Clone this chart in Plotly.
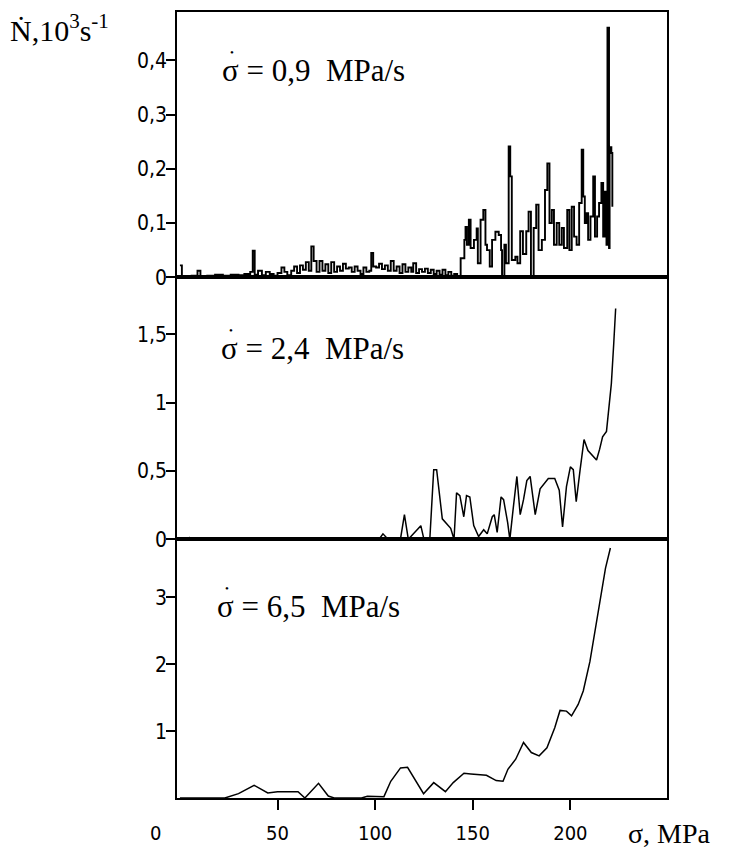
import plotly.graph_objects as go

# ---------------- data ----------------
# Panel 1: sigma_dot = 0,9 MPa/s
s1 = [0, 1, 3, 6, 9, 10.5, 14, 18, 22, 26, 30, 33, 36, 37.3, 38.3, 40, 42, 44, 46, 48,
      50, 52, 53.5, 55, 57, 58.5, 60, 61.5, 63, 64.5, 66, 67.3, 68.5, 70, 71.5, 73, 74.5,
      76, 77.5, 79, 80.5, 82, 83.5, 85, 86.5, 88, 89.5, 91, 92.5, 94, 95.5, 97, 98, 99,
      100.5, 102, 103.5, 105, 106.5, 108, 109.5, 111, 112.5, 114, 115.5, 117, 118.5, 119.5,
      121, 122.5, 124, 125.5, 127, 128.5, 130, 131.5, 133, 134.5, 136, 137.5, 139, 140.5,
      142, 143.8, 145.7, 146.3, 147, 148, 148.9, 150.6, 152, 152.6, 154, 155.4, 156.5,
      157.3, 158.7, 159.9, 161.6, 163.3, 164.5, 165, 166.2, 167, 168.4, 169.2, 170, 171.8,
      172.9, 174.3, 175.7, 177.4, 178.6, 179.8, 181.2, 182.5, 183.7, 185.4, 187, 188.2,
      189.3, 190.5, 191.6, 193, 194.3, 195.6, 196.7, 198.4, 199.5, 200.7, 201.9, 203.2,
      204.5, 205.8, 206.6, 207.4, 208.3, 209.1, 210.3, 211.7, 212.6, 213.7, 214.7, 215.9,
      216.8, 217.6, 218.5, 219, 219.8, 220.1, 221, 221.5]
n1 = [0.022, 0.0, 0.002, 0.003, 0.012, 0.002, 0.003, 0.005, 0.003, 0.005, 0.004, 0.006,
      0.01, 0.049, 0.005, 0.012, 0.004, 0.01, 0.006, 0.003, 0.008, 0.018, 0.01, 0.004,
      0.012, 0.02, 0.008, 0.022, 0.014, 0.028, 0.012, 0.057, 0.03, 0.01, 0.03, 0.012,
      0.024, 0.008, 0.028, 0.01, 0.02, 0.012, 0.025, 0.016, 0.018, 0.01, 0.02, 0.012,
      0.006, 0.018, 0.01, 0.012, 0.045, 0.02, 0.018, 0.025, 0.015, 0.022, 0.012, 0.03,
      0.012, 0.02, 0.008, 0.024, 0.01, 0.018, 0.01, 0.026, 0.008, 0.015, 0.01, 0.016,
      0.008, 0.014, 0.006, 0.012, 0.005, 0.014, 0.004, 0.01, 0.003, 0.006, 0.002, 0.035,
      0.069, 0.093, 0.06, 0.106, 0.054, 0.069, 0.09, 0.026, 0.106, 0.124, 0.06, 0.05,
      0.02, 0.069, 0.084, 0.078, 0.05, 0.0, 0.06, 0.026, 0.241, 0.186, 0.032, 0.038,
      0.026, 0.085, 0.043, 0.085, 0.121, 0.0, 0.091, 0.134, 0.05, 0.069, 0.161, 0.21,
      0.1, 0.124, 0.06, 0.1, 0.06, 0.091, 0.054, 0.124, 0.05, 0.13, 0.075, 0.06, 0.137,
      0.235, 0.149, 0.1, 0.118, 0.069, 0.112, 0.186, 0.075, 0.112, 0.137, 0.174, 0.075,
      0.158, 0.06, 0.46, 0.054, 0.24, 0.229, 0.13]

# Panel 2: sigma_dot = 2,4 MPa/s
s2 = [0, 4, 5, 6, 20, 22, 25, 60, 62, 64, 85, 87, 89, 102, 104, 106, 108, 113, 115, 117,
      123.4, 125, 128, 130, 131.5, 132.7, 134.4, 138.7, 140.4, 141.7, 143.4, 145.4, 146.8,
      148.5, 150.5, 153, 155.6, 157.4, 160, 161, 162.5, 164.5, 165.8, 167.9, 169, 170.6,
      172.6, 174.3, 176, 177.7, 179.4, 182, 184.5, 188.7, 192, 194.3, 196, 198, 200,
      201.5, 203, 205, 207, 209, 213.4, 215, 216.5, 218.5, 219.8, 221, 222.2, 223.2]
n2 = [0, 0.01, 0.012, 0, 0.01, 0.012, 0, 0, 0.01, 0, 0, 0.01, 0, 0, 0.04, 0.01, 0.01,
      0.005, 0.18, 0, 0.1, 0, 0, 0.51, 0.51, 0.37, 0.15, 0.08, 0, 0.34, 0.32, 0.165, 0.32,
      0.31, 0.1, 0.02, 0.07, 0.04, 0.165, 0.18, 0.05, 0.31, 0.29, 0.12, 0, 0.21, 0.46,
      0.18, 0.29, 0.43, 0.46, 0.18, 0.37, 0.445, 0.445, 0.36, 0.09, 0.385, 0.53, 0.51,
      0.275, 0.51, 0.73, 0.65, 0.58, 0.66, 0.75, 0.79, 0.995, 1.14, 1.43, 1.69]

# Panel 3: sigma_dot = 6,5 MPa/s
s3 = [0, 23, 30, 38, 45, 50, 60.5, 64, 71, 76, 79, 93, 96, 103, 104.5, 108, 111.5, 113,
      116.6, 120.8, 124.8, 130, 136, 140, 145.5, 149, 157, 162, 165.5, 168, 172, 176, 180,
      184, 188, 192, 194.7, 198, 200.6, 204, 206.6, 210, 213.4, 216, 218, 220.5]
n3 = [0, 0, 0.066, 0.19, 0.075, 0.095, 0.095, 0, 0.22, 0.03, 0, 0, 0.025, 0.025, 0.02,
      0.25, 0.4, 0.45, 0.46, 0.25, 0.065, 0.23, 0.095, 0.23, 0.37, 0.36, 0.34, 0.26,
      0.25, 0.43, 0.58, 0.83, 0.68, 0.63, 0.75, 1.05, 1.31, 1.30, 1.23, 1.4, 1.6, 2.04,
      2.64, 3.04, 3.44, 3.74]

x_ticks = [50, 100, 150, 200]
x_ticktext = ["50", "100", "150", "200"]
y1_ticks = [0, 0.1, 0.2, 0.3, 0.4]
y1_text = ["0", "0,1", "0,2", "0,3", "0,4"]
y2_ticks = [0, 0.5, 1, 1.5]
y2_text = ["0", "0,5", "1", "1,5"]
y3_ticks = [1, 2, 3]
y3_text = ["1", "2", "3"]
panel_labels = ["σ = 0,9 MPa/s", "σ = 2,4 MPa/s", "σ = 6,5 MPa/s"]

# ---------------- figure ----------------
# page body has an 8 px margin; size the figure so the page is exactly 739x855
OFF = 8
W, H = 739 - 2 * OFF, 855 - 2 * OFF
# desired plot area in page pixels: x 177..667, y 12..798
L, R = 177 - OFF, (739 - OFF) - 667
T, B = 12 - OFF, (855 - OFF) - 798
plot_w = W - L - R
plot_h = H - T - B
y_b1, y_b2, y_bot = 277.3, 539.3, 798.0
d3 = (y_bot - y_b2) / plot_h
d2 = (y_bot - y_b1) / plot_h

TICKFONT = dict(family="Liberation Sans Narrow, DejaVu Sans Condensed, Arial Narrow, sans-serif",
                size=21, color="black")
XTICKFONT = dict(TICKFONT, size=20)
SERIF = "Liberation Serif, Times New Roman, serif"

fig = go.Figure()
line_style = dict(color="black", width=1.5)
fig.add_trace(go.Scatter(x=s1, y=n1, mode="lines", line=dict(color="black", width=1.9, shape="hv"),
                         xaxis="x", yaxis="y", showlegend=False))
fig.add_trace(go.Scatter(x=s2, y=n2, mode="lines", line=line_style,
                         xaxis="x2", yaxis="y2", showlegend=False))
fig.add_trace(go.Scatter(x=s3, y=n3, mode="lines", line=line_style,
                         xaxis="x3", yaxis="y3", showlegend=False))

xr = [-1.5, 249.5]
ax_common = dict(showline=True, linecolor="black", linewidth=1.6, mirror=True,
                 showgrid=False, zeroline=False)
ytick_common = dict(ticks="outside", ticklen=9, tickwidth=1.5, tickcolor="black",
                    tickfont=TICKFONT, ticklabelstandoff=-5)

fig.update_layout(
    width=W, height=H,
    margin=dict(l=L, r=R, t=T, b=B, autoexpand=False),
    paper_bgcolor="white", plot_bgcolor="white",
    xaxis=dict(range=xr, domain=[0, 1], anchor="y", showticklabels=False, ticks="", **ax_common),
    xaxis2=dict(range=xr, domain=[0, 1], anchor="y2", showticklabels=False, ticks="", **ax_common),
    xaxis3=dict(range=xr, domain=[0, 1], anchor="y3", tickvals=x_ticks, ticktext=x_ticktext,
                ticks="outside", ticklen=10, tickwidth=2, tickcolor="black",
                tickfont=XTICKFONT, ticklabelstandoff=6, **ax_common),
    yaxis=dict(range=[0, 0.489], domain=[d2, 1], anchor="x", tickvals=y1_ticks, ticktext=y1_text,
               **ytick_common, **ax_common),
    yaxis2=dict(range=[0, 1.918], domain=[d3, d2], anchor="x2", tickvals=y2_ticks, ticktext=y2_text,
                **ytick_common, **ax_common),
    yaxis3=dict(range=[0, 3.87], domain=[0, d3], anchor="x3", tickvals=y3_ticks, ticktext=y3_text,
                **ytick_common, **ax_common),
)


def px_to_paper(px, py):
    return (px - OFF - L) / plot_w, (y_bot - py) / plot_h


annots = []
# y-axis title
ax_, ay_ = px_to_paper(8, 28)
annots.append(dict(x=ax_, y=ay_, xref="paper", yref="paper", xanchor="left", yanchor="middle",
                   text="Ṅ,10<sup>3</sup>s<sup>-1</sup>", showarrow=False,
                   font=dict(family=SERIF, size=30, color="black")))
# x-axis title
ax_, ay_ = px_to_paper(626, 833)
annots.append(dict(x=ax_, y=ay_, xref="paper", yref="paper", xanchor="left", yanchor="middle",
                   text="σ, MPa", showarrow=False,
                   font=dict(family=SERIF, size=28, color="black")))
# origin label "0"
ax_, ay_ = px_to_paper(155, 833)
annots.append(dict(x=ax_, y=ay_, xref="paper", yref="paper", xanchor="center", yanchor="middle",
                   text="0", showarrow=False, font=XTICKFONT))
# panel labels with the rate dot above sigma
label_pos = [(220, 70), (219, 348), (215, 606)]
dot_pos = [(232, 52), (231, 330), (227, 588)]
for txt, (px, py), (dx, dy) in zip(panel_labels, label_pos, dot_pos):
    ax_, ay_ = px_to_paper(px, py)
    annots.append(dict(x=ax_, y=ay_, xref="paper", yref="paper", xanchor="left", yanchor="middle",
                       text=txt.replace(" MPa", "&nbsp; MPa"), showarrow=False,
                       font=dict(family=SERIF, size=31, color="black")))
    ax_, ay_ = px_to_paper(dx, dy)
    annots.append(dict(x=ax_, y=ay_, xref="paper", yref="paper", xanchor="center", yanchor="middle",
                       text="•", showarrow=False,
                       font=dict(family=SERIF, size=11, color="black")))

fig.update_layout(annotations=annots)
fig.write_html("out.html")
